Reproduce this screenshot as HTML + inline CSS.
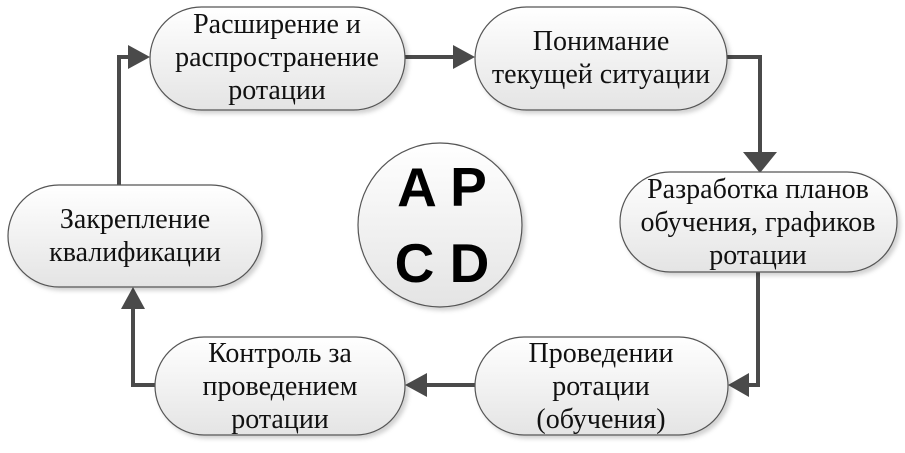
<!DOCTYPE html>
<html><head><meta charset="utf-8"><style>
html,body{margin:0;padding:0;background:#fff;}
svg{display:block;}
text{font-family:"Liberation Serif",serif;font-size:28px;fill:#111;text-anchor:middle;}
.b{font-family:"Liberation Sans",sans-serif;font-weight:bold;font-size:55px;fill:#000;}
</style></head><body>
<svg width="905" height="453" viewBox="0 0 905 453" xmlns="http://www.w3.org/2000/svg">
<defs>
<linearGradient id="g" x1="0" y1="0" x2="0" y2="1"><stop offset="0" stop-color="#ffffff"/><stop offset="1" stop-color="#e4e4e4"/></linearGradient>
<filter id="s" x="-10%" y="-10%" width="130%" height="130%"><feDropShadow dx="3" dy="3" stdDeviation="2" flood-color="#000" flood-opacity="0.18"/></filter>
</defs>
<g fill="none" stroke="#4a4a4a" stroke-width="4">
<path d="M405,57 L468,57"/>
<path d="M727,57 L760,57 L760,164"/>
<path d="M758,272 L758,385 L735,385"/>
<path d="M475,385 L413,385"/>
<path d="M155,385 L133,385 L133,295"/>
<path d="M119,185 L119,57 L142,57"/>
</g>
<g fill="#4a4a4a">
<path d="M743,152 L777,152 L760,173 z"/>
<path d="M728,385 L749,373 L749,397 z"/>
<path d="M405,385 L427,373 L427,397 z"/>
<path d="M133,287 L121,309 L145,309 z"/>
<path d="M150,57 L128,45 L128,69 z"/>
<path d="M475,57 L453,45 L453,69 z"/>
</g>
<g fill="url(#g)" stroke="#555" stroke-width="1.2" filter="url(#s)">
<rect x="150" y="7" width="255" height="103" rx="51.5"/>
<rect x="475" y="7" width="252" height="103" rx="51.5"/>
<rect x="620" y="172" width="277" height="100" rx="50"/>
<rect x="475" y="337" width="253" height="98" rx="49"/>
<rect x="155" y="337" width="250" height="98" rx="49"/>
<rect x="8" y="185" width="254" height="102" rx="51"/>
<circle cx="440" cy="225" r="82"/>
</g>
<text x="277" y="33">Расширение и</text>
<text x="277" y="66">распространение</text>
<text x="277" y="99">ротации</text>
<text x="601" y="50">Понимание</text>
<text x="601" y="83">текущей ситуации</text>
<text x="758" y="198">Разработка планов</text>
<text x="758" y="231">обучения, графиков</text>
<text x="758" y="264">ротации</text>
<text x="601" y="362">Проведении</text>
<text x="601" y="395">ротации</text>
<text x="601" y="428">(обучения)</text>
<text x="280" y="362">Контроль за</text>
<text x="280" y="395">проведением</text>
<text x="280" y="428">ротации</text>
<text x="135" y="228">Закрепление</text>
<text x="135" y="261">квалификации</text>
<text class="b" x="442" y="206">A P</text>
<text class="b" x="442" y="282">C D</text>
</svg>
</body></html>
